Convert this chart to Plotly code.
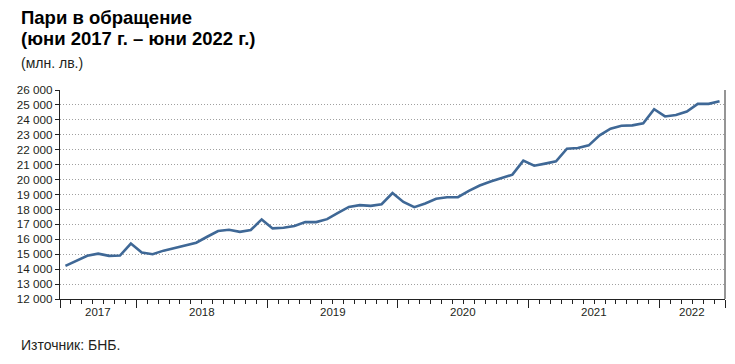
import plotly.graph_objects as go

# Monthly data, June 2017 - June 2022 (million BGN)
months = [f"{y}-{m:02d}" for y in range(2017, 2023) for m in range(1, 13)]
months = months[5:5 + 61]
values_2017 = [14220, 14550, 14900, 15040, 14890, 14910, 15710]
values_2018 = [15110, 15000, 15240, 15400, 15570, 15770, 16170, 16550, 16640, 16500, 16620, 17330]
values_2019 = [16730, 16770, 16890, 17150, 17150, 17350, 17770, 18170, 18290, 18240, 18350, 19100]
values_2020 = [18500, 18150, 18400, 18710, 18820, 18820, 19240, 19600, 19870, 20110, 20330, 21270]
values_2021 = [20930, 21070, 21220, 22070, 22110, 22290, 22960, 23410, 23610, 23630, 23770, 24710]
values_2022 = [24230, 24330, 24560, 25070, 25070, 25250]
values = values_2017 + values_2018 + values_2019 + values_2020 + values_2021 + values_2022

year_labels = ["2017", "2018", "2019", "2020", "2021", "2022"]
title_line1 = "Пари в обращение"
title_line2 = "(юни 2017 г. – юни 2022 г.)"
unit_label = "(млн. лв.)"
source_label = "Източник: БНБ."

idx = list(range(len(values)))

# Year groups derived from month strings
years = [m[:4] for m in months]
group_start = {}
group_end = {}
for i, y in enumerate(years):
    group_start.setdefault(y, i)
    group_end[y] = i
year_centers = [(group_start[y] + group_end[y]) / 2 for y in year_labels]
year_bounds = [group_start[y] - 0.5 for y in year_labels] + [len(values) - 0.5]

TXT = "#231f20"
FONT = "Liberation Sans, Arial, sans-serif"
W, H = 735, 364
ML, MR, MT, MB = 60, 10, 90, 65

fig = go.Figure()
fig.add_trace(go.Scatter(
    x=idx, y=values, mode="lines",
    line=dict(color="#3f6896", width=2.6),
    hoverinfo="skip", showlegend=False,
))

fig.update_layout(
    width=W, height=H,
    margin=dict(l=ML, r=MR, t=MT, b=MB),
    paper_bgcolor="white", plot_bgcolor="white",
    separators=", ",
    font=dict(family=FONT, color=TXT, size=11),
    showlegend=False,
)

fig.update_yaxes(
    range=[12000, 26000], dtick=1000, tick0=12000,
    tickformat=",d",
    ticks="outside", ticklen=4, tickcolor="#222", tickwidth=1,
    showline=True, linecolor="#222", linewidth=1.2,
    showgrid=True, gridcolor="#a0a0a0", griddash="1px,2px", gridwidth=1,
    zeroline=False,
    tickfont=dict(size=11.7, color=TXT, family=FONT),
)

fig.update_xaxes(
    range=[-0.5, len(values) - 0.5],
    tickmode="array", tickvals=year_bounds, ticktext=[""] * len(year_bounds),
    ticks="outside", ticklen=8, tickcolor="#222", tickwidth=1,
    showline=True, linecolor="#222", linewidth=1.2,
    showgrid=False, zeroline=False,
    minor=dict(tick0=0.5, dtick=1, ticks="outside", ticklen=4,
               tickcolor="#222", tickwidth=1, showgrid=False),
)

# Year labels under each group
for c, lab in zip(year_centers, year_labels):
    fig.add_annotation(x=c, y=0, xref="x", yref="paper", yshift=-13,
                       text=lab, showarrow=False, yanchor="middle",
                       font=dict(size=11.5, color=TXT, family=FONT))

# Right border line
fig.add_shape(type="line", xref="paper", yref="paper", x0=1, x1=1, y0=0, y1=1,
              line=dict(color="#8a8a8a", width=1.8))


def px_x(px):
    return (px - ML) / (W - ML - MR)


def px_y(py):
    top, bottom = MT, H - MB
    return (bottom - py) / (bottom - top)


fig.add_annotation(x=px_x(19), y=px_y(17), xref="paper", yref="paper",
                   text=f"<b>{title_line1}</b>", showarrow=False,
                   xanchor="left", yanchor="middle",
                   font=dict(size=18.5, color="#000", family=FONT))
fig.add_annotation(x=px_x(19), y=px_y(39), xref="paper", yref="paper",
                   text=f"<b>{title_line2}</b>", showarrow=False,
                   xanchor="left", yanchor="middle",
                   font=dict(size=18.5, color="#000", family=FONT))
fig.add_annotation(x=px_x(19), y=px_y(63), xref="paper", yref="paper",
                   text=unit_label, showarrow=False,
                   xanchor="left", yanchor="middle",
                   font=dict(size=14, color=TXT, family=FONT))
fig.add_annotation(x=px_x(19), y=px_y(345), xref="paper", yref="paper",
                   text=source_label, showarrow=False,
                   xanchor="left", yanchor="middle",
                   font=dict(size=14, color=TXT, family=FONT))

fig.write_html("out.html", config={"displayModeBar": False},
               post_script="document.body.style.margin='0';")
